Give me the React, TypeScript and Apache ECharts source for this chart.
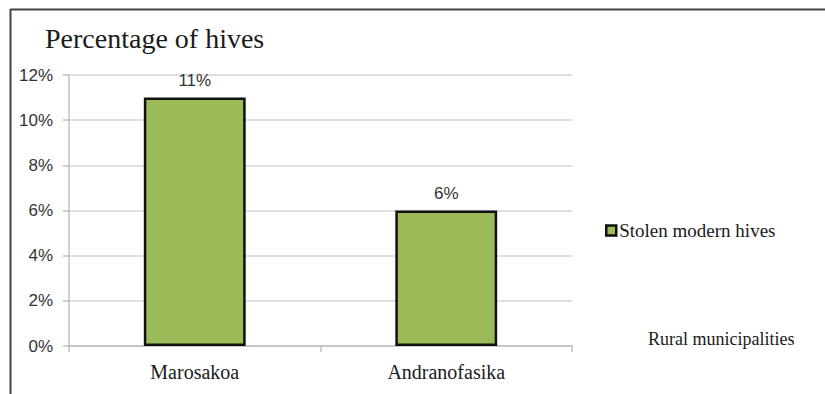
import React, { useEffect, useRef } from "react";
import * as echarts from "echarts";

const categories = ["Marosakoa", "Andranofasika"];
const stolenModernHives = [11, 6];
const seriesName = "Stolen modern hives";
const yTicks = [0, 2, 4, 6, 8, 10, 12];

export default function App() {
  const ref = useRef<HTMLDivElement>(null);

  useEffect(() => {
    if (!ref.current) return;
    const chart = echarts.init(ref.current, null, { renderer: "svg" });
    const sans = "'Liberation Sans Narrow', 'Liberation Sans', Arial, sans-serif";
    const serif = "'Liberation Serif', 'Times New Roman', serif";
    chart.setOption({
      animation: false,
      backgroundColor: "#ffffff",
      title: {
        text: "Percentage of hives",
        left: 40,
        top: 19,
        textStyle: { fontFamily: serif, fontSize: 28, fontWeight: "normal", color: "#1a1a1a" },
      },
      legend: {
        left: 600,
        top: 216,
        itemWidth: 10,
        itemHeight: 10,
        icon: "rect",
        data: [seriesName],
        itemStyle: { borderColor: "#111111", borderWidth: 2.5 },
        textStyle: { fontFamily: serif, fontSize: 19, color: "#1a1a1a", padding: [0, 0, 0, -2] },
      },
      grid: { left: 69, top: 75, right: 253, bottom: 48 },
      xAxis: {
        type: "category",
        data: categories,
        axisLine: { lineStyle: { color: "#bfbfbf", width: 1.5 } },
        axisTick: { show: true, length: 6, lineStyle: { color: "#bfbfbf", width: 1.5 } },
        axisLabel: { fontFamily: serif, fontSize: 20, color: "#1a1a1a", margin: 16 },
      },
      yAxis: {
        type: "value",
        min: yTicks[0],
        max: yTicks[yTicks.length - 1],
        interval: 2,
        axisLine: { show: true, lineStyle: { color: "#bfbfbf", width: 1.5 } },
        axisTick: { show: true, length: 6, lineStyle: { color: "#bfbfbf", width: 1.5 } },
        splitLine: { lineStyle: { color: "#d4d4d4", width: 1.5 } },
        axisLabel: {
          fontFamily: sans,
          fontSize: 17,
          color: "#333333",
          margin: 16,
          formatter: (v: number) => `${v}%`,
        },
      },
      series: [
        {
          name: seriesName,
          type: "bar",
          data: stolenModernHives,
          barWidth: "40.5%",
          itemStyle: { color: "#9bbb59", borderColor: "#111111", borderWidth: 2.5 },
          label: {
            show: true,
            position: "top",
            distance: 9,
            fontFamily: sans,
            fontSize: 17,
            color: "#333333",
            formatter: (p: any) => `${p.value}%`,
          },
        },
      ],
      graphic: [
        {
          type: "line",
          shape: { x1: 10, y1: 9.5, x2: 825, y2: 9.5 },
          style: { stroke: "#444444", lineWidth: 2 },
        },
        {
          type: "line",
          shape: { x1: 10.5, y1: 9, x2: 10.5, y2: 394 },
          style: { stroke: "#444444", lineWidth: 2 },
        },
        {
          type: "text",
          left: 648,
          top: 330,
          style: { text: "Rural municipalities", font: `18px ${serif}`, fill: "#1a1a1a" },
        },
      ],
    });
    return () => chart.dispose();
  }, []);

  return (
    <div
      ref={ref}
      style={{ position: "fixed", left: 0, top: 0, width: 825, height: 394 }}
    />
  );
}
